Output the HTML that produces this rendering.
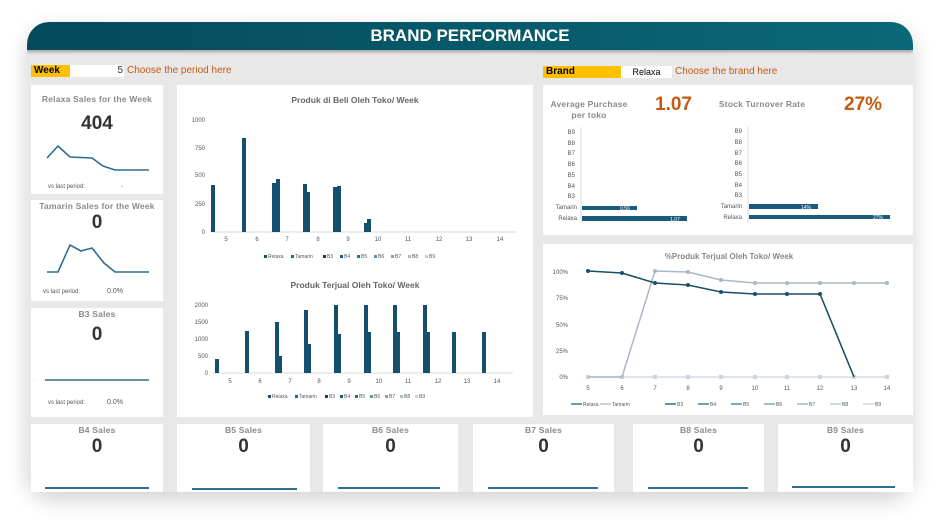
<!DOCTYPE html>
<html><head><meta charset="utf-8"><style>
*{margin:0;padding:0;box-sizing:border-box}
body{width:952px;height:529px;background:#fff;font-family:"Liberation Sans",sans-serif;position:relative;overflow:hidden}
.a{position:absolute}
.card{position:absolute;background:#fff}
.t{position:absolute;text-align:center;color:#8a8a8a;font-weight:bold;font-size:8.5px;letter-spacing:.2px}
.big{position:absolute;text-align:center;color:#333;font-weight:bold;font-size:19px}
.vs{position:absolute;font-size:6px;color:#555}
</style></head><body>
<div class="a" style="left:27px;top:22px;width:886px;height:470px;border-radius:22px 22px 26px 26px;background:#e8e8e8;box-shadow:0 8px 22px rgba(0,0,0,.18);overflow:hidden">
<div class="a" style="left:0;top:0;width:886px;height:28px;background:linear-gradient(90deg,#034a5a,#0b6878);border-radius:22px 22px 0 0;box-shadow:0 2px 3px rgba(0,0,0,.3)"></div>
<div class="a" style="left:0;top:4px;width:886px;text-align:center;color:#fff;font-weight:bold;font-size:17px">BRAND PERFORMANCE</div>
</div>
<!-- week -->
<div class="a" style="left:31px;top:65px;width:39px;height:12px;background:#ffc000;font-size:10px;font-weight:bold;padding-left:3px;line-height:12px">Week</div>
<div class="a" style="left:70px;top:65px;width:54px;height:12px;background:#fff;font-size:10px;text-align:right;padding-right:1px;line-height:12px;color:#333">5</div>
<div class="a" style="left:127px;top:65px;font-size:10px;color:#c55a11;line-height:12px">Choose the period here</div>
<div class="a" style="left:543px;top:66px;width:78px;height:12px;background:#ffc000;font-size:10px;font-weight:bold;padding-left:3px;line-height:12px">Brand</div>
<div class="a" style="left:621px;top:66px;width:51px;height:12px;background:#fff;font-size:9px;text-align:center;line-height:12px">Relaxa</div>
<div class="a" style="left:675px;top:66px;font-size:10px;color:#c55a11;line-height:12px">Choose the brand here</div>

<!-- left cards -->
<div class="card" style="left:31px;top:85px;width:132px;height:109px"></div>
<div class="t" style="left:31px;top:94px;width:132px">Relaxa Sales for the Week</div>
<div class="big" style="left:31px;top:113px;width:132px">404</div>
<div class="vs" style="left:48px;top:184px">vs last period:</div><div class="vs" style="left:121px;top:184px">-</div>
<div class="card" style="left:31px;top:200px;width:132px;height:101px"></div>
<div class="t" style="left:31px;top:201px;width:132px">Tamarin Sales for the Week</div>
<div class="big" style="left:31px;top:212px;width:132px">0</div>
<div class="vs" style="left:43px;top:289px">vs last period:</div><div class="vs" style="left:107px;top:288px;font-size:7px">0.0%</div>
<div class="card" style="left:31px;top:308px;width:132px;height:109px"></div>
<div class="t" style="left:31px;top:309px;width:132px">B3 Sales</div>
<div class="big" style="left:31px;top:324px;width:132px">0</div>
<div class="vs" style="left:48px;top:400px">vs last period:</div><div class="vs" style="left:107px;top:399px;font-size:7px">0.0%</div>

<!-- bottom cards -->
<div class="card" style="left:31px;top:424px;width:132px;height:68px"></div>
<div class="card" style="left:177px;top:424px;width:133px;height:68px"></div>
<div class="card" style="left:323px;top:424px;width:135px;height:68px"></div>
<div class="card" style="left:473px;top:424px;width:141px;height:68px"></div>
<div class="card" style="left:633px;top:424px;width:131px;height:68px"></div>
<div class="card" style="left:778px;top:424px;width:135px;height:68px"></div>
<div class="t" style="left:31px;top:425px;width:132px">B4 Sales</div>
<div class="t" style="left:177px;top:425px;width:133px">B5 Sales</div>
<div class="t" style="left:323px;top:425px;width:135px">B6 Sales</div>
<div class="t" style="left:473px;top:425px;width:141px">B7 Sales</div>
<div class="t" style="left:633px;top:425px;width:131px">B8 Sales</div>
<div class="t" style="left:778px;top:425px;width:135px">B9 Sales</div>
<div class="big" style="left:31px;top:436px;width:132px">0</div>
<div class="big" style="left:177px;top:436px;width:133px">0</div>
<div class="big" style="left:323px;top:436px;width:135px">0</div>
<div class="big" style="left:473px;top:436px;width:141px">0</div>
<div class="big" style="left:633px;top:436px;width:131px">0</div>
<div class="big" style="left:778px;top:436px;width:135px">0</div>

<!-- big card + right cards -->
<div class="card" style="left:177px;top:85px;width:356px;height:332px"></div>
<div class="card" style="left:543px;top:85px;width:370px;height:150px"></div>
<div class="card" style="left:543px;top:244px;width:370px;height:171px"></div>

<div class="t" style="left:543px;top:99px;width:92px;line-height:11px">Average Purchase<br>per toko</div>
<div class="a" style="left:655px;top:94px;font-size:19px;font-weight:bold;color:#c55a11">1.07</div>
<div class="t" style="left:712px;top:99px;width:100px">Stock Turnover Rate</div>
<div class="a" style="left:844px;top:94px;font-size:19px;font-weight:bold;color:#c55a11">27%</div>

<svg class="a" style="left:0;top:0" width="952" height="529" font-family="Liberation Sans, sans-serif">
<g fill="none" stroke="#2e6f8e" stroke-width="1.6">
<polyline points="47,158 58,146 70,157 92,158 103,166 115,170 149,170"/>
<polyline points="47,272 58,272 70,245 81,251 92,248 104,263 115,272 149,272"/>
<line x1="45" y1="380" x2="149" y2="380"/>
</g>
<g stroke="#2e6f8e" stroke-width="2">
<line x1="45" y1="488" x2="149" y2="488"/><line x1="192" y1="489" x2="297" y2="489"/><line x1="338" y1="488" x2="440" y2="488"/><line x1="488" y1="488" x2="598" y2="488"/><line x1="648" y1="488" x2="748" y2="488"/><line x1="792" y1="487" x2="895" y2="487"/>
</g>
<!-- chart 1 -->
<text x="355" y="103" font-size="8.5" font-weight="bold" fill="#666" text-anchor="middle">Produk di Beli Oleh Toko/ Week</text>
<g font-size="6" fill="#555" text-anchor="end"><text x="205" y="122">1000</text><text x="205" y="150">750</text><text x="205" y="177">500</text><text x="205" y="206">250</text><text x="205" y="234">0</text></g>
<line x1="210" y1="232" x2="517" y2="232" stroke="#ccc" stroke-width=".7"/>
<g font-size="6" fill="#555" text-anchor="middle"><text x="226" y="241">5</text><text x="257" y="241">6</text><text x="287" y="241">7</text><text x="318" y="241">8</text><text x="348" y="241">9</text><text x="378" y="241">10</text><text x="408" y="241">11</text><text x="439" y="241">12</text><text x="469" y="241">13</text><text x="500" y="241">14</text></g>
<g fill="#144f6e">
<rect x="211" y="185" width="4" height="47"/><rect x="242" y="138" width="4" height="94"/>
<rect x="272" y="183" width="4" height="49"/><rect x="276" y="179" width="4" height="53"/>
<rect x="303" y="184" width="4" height="48"/><rect x="307" y="192" width="3" height="40"/>
<rect x="333" y="187" width="4" height="45"/><rect x="337" y="186" width="4" height="46"/>
<rect x="364" y="223" width="3" height="9"/><rect x="367" y="219" width="4" height="13"/>
</g>
<g font-size="5" fill="#555"><rect x="264" y="255" width="3" height="3" fill="#144f6e"/><text x="268" y="258">Relaxa</text><rect x="291" y="255" width="3" height="3" fill="#1d6a8a"/><text x="295" y="258">Tamarin</text><rect x="323" y="255" width="3" height="3" fill="#123f5a"/><text x="327" y="258">B3</text><rect x="340" y="255" width="3" height="3" fill="#1a5a7a"/><text x="344" y="258">B4</text><rect x="357" y="255" width="3" height="3" fill="#2a6f8f"/><text x="361" y="258">B5</text><rect x="374" y="255" width="3" height="3" fill="#6a8ea5"/><text x="378" y="258">B6</text><rect x="391" y="255" width="3" height="3" fill="#8aa3b5"/><text x="395" y="258">B7</text><rect x="408" y="255" width="3" height="3" fill="#a9bccb"/><text x="412" y="258">B8</text><rect x="425" y="255" width="3" height="3" fill="#c5d2dc"/><text x="429" y="258">B9</text></g>
<!-- chart 2 -->
<text x="355" y="288" font-size="8.5" font-weight="bold" fill="#666" text-anchor="middle">Produk Terjual Oleh Toko/ Week</text>
<g font-size="6" fill="#555" text-anchor="end"><text x="208" y="307">2000</text><text x="208" y="324">1500</text><text x="208" y="341">1000</text><text x="208" y="358">500</text><text x="208" y="375">0</text></g>
<line x1="213" y1="373" x2="513" y2="373" stroke="#ccc" stroke-width=".7"/>
<g font-size="6" fill="#555" text-anchor="middle"><text x="230" y="383">5</text><text x="260" y="383">6</text><text x="290" y="383">7</text><text x="319" y="383">8</text><text x="349" y="383">9</text><text x="379" y="383">10</text><text x="408" y="383">11</text><text x="438" y="383">12</text><text x="467" y="383">13</text><text x="497" y="383">14</text></g>
<g fill="#144f6e">
<rect x="215" y="359" width="4" height="14"/><rect x="245" y="331" width="4" height="42"/>
<rect x="275" y="322" width="4" height="51"/><rect x="279" y="356" width="3" height="17"/>
<rect x="304" y="310" width="4" height="63"/><rect x="308" y="344" width="3" height="29"/>
<rect x="334" y="305" width="4" height="68"/><rect x="338" y="334" width="3" height="39"/>
<rect x="364" y="305" width="4" height="68"/><rect x="368" y="332" width="3" height="41"/>
<rect x="393" y="305" width="4" height="68"/><rect x="397" y="332" width="3" height="41"/>
<rect x="423" y="305" width="4" height="68"/><rect x="427" y="332" width="3" height="41"/>
<rect x="452" y="332" width="4" height="41"/><rect x="482" y="332" width="4" height="41"/>
</g>
<g font-size="5" fill="#555"><rect x="268" y="395" width="3" height="3" fill="#144f6e"/><text x="272" y="398">Relaxa</text><rect x="295" y="395" width="3" height="3" fill="#1d6a8a"/><text x="299" y="398">Tamarin</text><rect x="325" y="395" width="3" height="3" fill="#123f5a"/><text x="329" y="398">B3</text><rect x="340" y="395" width="3" height="3" fill="#1a5a7a"/><text x="344" y="398">B4</text><rect x="355" y="395" width="3" height="3" fill="#2a6f8f"/><text x="359" y="398">B5</text><rect x="370" y="395" width="3" height="3" fill="#6a8ea5"/><text x="374" y="398">B6</text><rect x="385" y="395" width="3" height="3" fill="#8aa3b5"/><text x="389" y="398">B7</text><rect x="400" y="395" width="3" height="3" fill="#a9bccb"/><text x="404" y="398">B8</text><rect x="415" y="395" width="3" height="3" fill="#c5d2dc"/><text x="419" y="398">B9</text></g>
<!-- horizontal bar charts -->
<line x1="581" y1="127" x2="581" y2="223" stroke="#ccc" stroke-width=".7"/>
<g font-size="6" fill="#555" text-anchor="end"><text x="575" y="134">B9</text><text x="575" y="145">B8</text><text x="575" y="155">B7</text><text x="575" y="166">B6</text><text x="575" y="177">B5</text><text x="575" y="188">B4</text><text x="575" y="198">B3</text><text x="577" y="209">Tamarin</text><text x="577" y="220">Relaxa</text></g>
<rect x="582" y="206" width="55" height="4" fill="#1a5a7a"/><rect x="582" y="216" width="105" height="5" fill="#1a5a7a"/>
<text x="625" y="210" font-size="5" fill="#fff" text-anchor="middle">0.56</text><text x="675" y="221" font-size="5" fill="#fff" text-anchor="middle">1.07</text>
<line x1="748" y1="127" x2="748" y2="223" stroke="#ccc" stroke-width=".7"/>
<g font-size="6" fill="#555" text-anchor="end"><text x="742" y="133">B9</text><text x="742" y="144">B8</text><text x="742" y="155">B7</text><text x="742" y="165">B6</text><text x="742" y="176">B5</text><text x="742" y="187">B4</text><text x="742" y="197">B3</text><text x="742" y="208">Tamarin</text><text x="742" y="219">Relaxa</text></g>
<rect x="749" y="204" width="69" height="5" fill="#1a5a7a"/><rect x="749" y="215" width="141" height="4" fill="#1a5a7a"/>
<text x="806" y="209" font-size="5" fill="#fff" text-anchor="middle">14%</text><text x="878" y="219" font-size="5" fill="#fff" text-anchor="middle">27%</text>
<!-- line chart -->
<text x="729" y="259" font-size="8" font-weight="bold" fill="#888" text-anchor="middle">%Produk Terjual Oleh Toko/ Week</text>
<g font-size="6" fill="#555" text-anchor="end"><text x="568" y="274">100%</text><text x="568" y="300">75%</text><text x="568" y="327">50%</text><text x="568" y="353">25%</text><text x="568" y="379">0%</text></g>
<g font-size="6" fill="#555" text-anchor="middle"><text x="588" y="390">5</text><text x="622" y="390">6</text><text x="655" y="390">7</text><text x="688" y="390">8</text><text x="721" y="390">9</text><text x="755" y="390">10</text><text x="787" y="390">11</text><text x="820" y="390">12</text><text x="854" y="390">13</text><text x="887" y="390">14</text></g>
<polyline points="588,377 622,377 655,377 688,377 721,377 755,377 787,377 820,377 854,377 887,377" fill="none" stroke="#c9d3dc" stroke-width="1.2"/>
<g fill="#c9d3dc"><rect x="586" y="375" width="4" height="4"/><rect x="620" y="375" width="4" height="4"/><rect x="653" y="375" width="4" height="4"/><rect x="686" y="375" width="4" height="4"/><rect x="719" y="375" width="4" height="4"/><rect x="753" y="375" width="4" height="4"/><rect x="785" y="375" width="4" height="4"/><rect x="818" y="375" width="4" height="4"/><rect x="852" y="375" width="4" height="4"/><rect x="885" y="375" width="4" height="4"/></g>
<polyline points="588,377 622,377 655,271 688,272 721,280 755,283 787,283 820,283 854,283 887,283" fill="none" stroke="#a9b8c6" stroke-width="1.5"/>
<g fill="#a9b8c6"><circle cx="655" cy="271" r="2"/><circle cx="688" cy="272" r="2"/><circle cx="721" cy="280" r="2"/><circle cx="755" cy="283" r="2"/><circle cx="787" cy="283" r="2"/><circle cx="820" cy="283" r="2"/><circle cx="854" cy="283" r="2"/><circle cx="887" cy="283" r="2"/></g>
<polyline points="588,271 622,273 655,283 688,285 721,292 755,294 787,294 820,294 854,377" fill="none" stroke="#1a4f6a" stroke-width="1.6"/>
<g fill="#1a4f6a"><circle cx="588" cy="271" r="2"/><circle cx="622" cy="273" r="2"/><circle cx="655" cy="283" r="2"/><circle cx="688" cy="285" r="2"/><circle cx="721" cy="292" r="2"/><circle cx="755" cy="294" r="2"/><circle cx="787" cy="294" r="2"/><circle cx="820" cy="294" r="2"/></g>
<g font-size="5" fill="#555">
<line x1="571" y1="404" x2="582" y2="404" stroke="#1a4f6a" stroke-width="1.2"/><text x="583" y="406">Relaxa</text>
<line x1="600" y1="404" x2="611" y2="404" stroke="#a9b8c6" stroke-width="1.2"/><text x="612" y="406">Tamarin</text>
<line x1="665" y1="404" x2="676" y2="404" stroke="#123f5a" stroke-width="1.2"/><text x="677" y="406">B3</text>
<line x1="698" y1="404" x2="709" y2="404" stroke="#1a5a7a" stroke-width="1.2"/><text x="710" y="406">B4</text>
<line x1="731" y1="404" x2="742" y2="404" stroke="#2a6f8f" stroke-width="1.2"/><text x="743" y="406">B5</text>
<line x1="764" y1="404" x2="775" y2="404" stroke="#6a8ea5" stroke-width="1.2"/><text x="776" y="406">B6</text>
<line x1="797" y1="404" x2="808" y2="404" stroke="#8aa3b5" stroke-width="1.2"/><text x="809" y="406">B7</text>
<line x1="830" y1="404" x2="841" y2="404" stroke="#a9bccb" stroke-width="1.2"/><text x="842" y="406">B8</text>
<line x1="863" y1="404" x2="874" y2="404" stroke="#c5d2dc" stroke-width="1.2"/><text x="875" y="406">B9</text>
</g>
</svg>
</body></html>
